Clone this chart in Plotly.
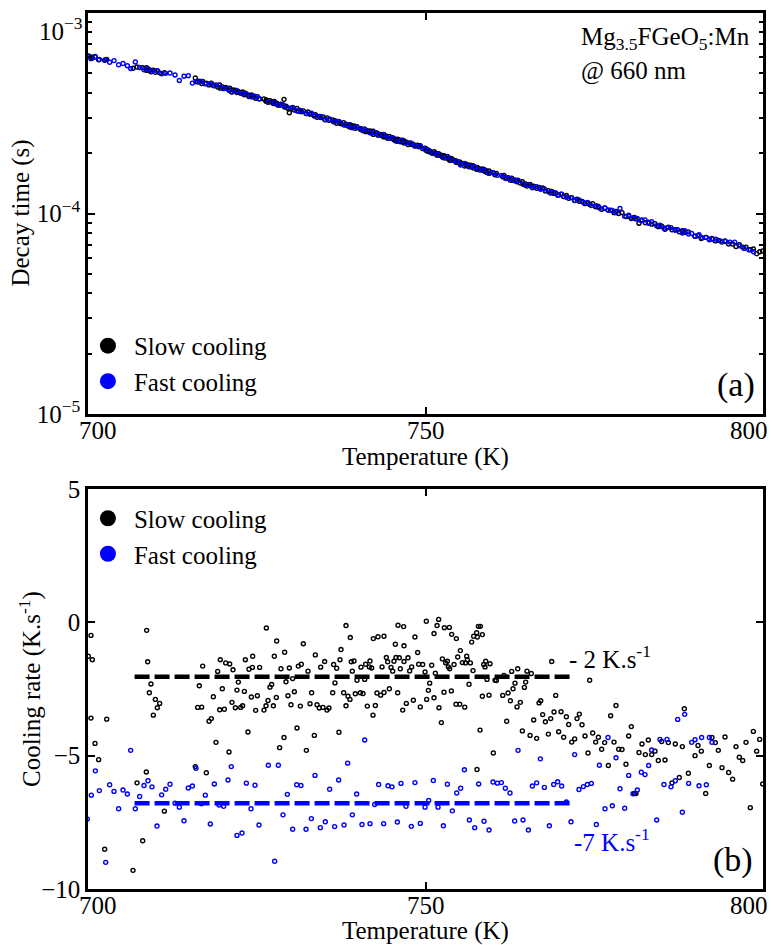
import plotly.graph_objects as go

FONT = "Liberation Serif, Times New Roman, Times, serif"
BLUE = "#0000ff"

# ---------------- data ----------------
# Slow cooling: temperature (K), cooling rate (K/s), decay time (microseconds)
slow_temp = [
    700.05, 700.44, 700.44, 700.64, 701.04, 701.58, 702.47, 702.77, 706.67, 707.26,
    708.10, 708.64, 708.69, 708.84, 709.09, 709.33, 709.68, 709.98, 710.27, 710.62,
    711.31, 715.90, 716.25, 716.49, 716.84, 716.99, 717.53, 717.93, 718.27, 718.57,
    718.96, 719.21, 719.51, 719.60, 719.90, 720.20, 720.40, 720.89, 720.99, 721.33,
    721.48, 721.83, 722.07, 722.27, 722.62, 722.91, 723.16, 723.31, 723.70, 723.85,
    724.20, 724.35, 724.40, 724.84, 725.09, 725.43, 726.07, 726.37, 726.42, 726.67,
    726.96, 727.21, 727.46, 727.60, 727.90, 727.95, 728.39, 728.59, 729.04, 729.13,
    729.33, 729.63, 729.83, 730.07, 730.32, 730.57, 730.96, 731.16, 731.46, 731.60,
    731.90, 732.35, 732.59, 732.89, 733.13, 733.53, 733.68, 733.93, 734.27, 734.47,
    734.81, 735.06, 735.41, 735.70, 736.25, 736.39, 736.59, 736.84, 737.18, 737.33,
    737.48, 737.88, 738.22, 738.22, 738.52, 738.81, 738.86, 739.01, 739.16, 739.41,
    739.60, 739.85, 740.35, 740.44, 740.74, 740.99, 741.13, 741.38, 741.68, 741.78,
    742.02, 742.22, 742.27, 742.57, 742.81, 742.96, 743.36, 743.56, 743.85, 743.85,
    744.20, 744.39, 744.64, 744.89, 745.14, 745.33, 745.53, 745.63, 745.88, 745.93,
    746.12, 746.27, 746.62, 746.76, 746.81, 746.81, 747.16, 747.41, 747.65, 747.95,
    748.20, 748.44, 748.84, 748.99, 749.23, 749.58, 749.93, 750.12, 750.17, 750.42,
    750.62, 750.92, 751.26, 751.26, 751.46, 751.71, 751.95, 752.00, 752.35, 752.50,
    752.74, 752.79, 752.99, 753.24, 753.39, 753.53, 753.58, 753.83, 753.88, 754.23,
    754.52, 754.57, 754.77, 755.07, 755.16, 755.46, 755.81, 755.91, 756.10, 756.20,
    756.45, 756.65, 756.84, 757.04, 757.14, 757.58, 757.63, 757.68, 757.83, 758.08,
    758.13, 758.42, 758.42, 758.62, 758.82, 758.92, 759.11, 759.41, 759.56, 760.05,
    760.30, 760.50, 761.44, 761.63, 762.03, 762.23, 762.57, 762.77, 762.97, 763.26,
    763.56, 763.66, 764.05, 764.35, 764.65, 764.84, 765.04, 765.49, 765.68, 766.03,
    766.47, 766.82, 767.07, 767.36, 767.76, 768.20, 768.55, 768.70, 769.04, 769.29,
    769.73, 770.08, 770.47, 770.87, 771.21, 771.66, 772.10, 772.45, 772.79, 773.19,
    773.63, 774.08, 774.32, 774.77, 775.21, 775.61, 776.10, 776.54, 777.09, 777.43,
    777.93, 778.22, 778.62, 779.11, 779.70, 780.10, 780.49, 780.94, 781.18, 781.63,
    782.07, 782.57, 783.01, 783.51, 784.00, 784.49, 784.99, 785.48, 785.98, 786.52,
    787.01, 787.60, 788.05, 788.35, 788.94, 789.93, 790.37, 790.86, 791.51, 792.05,
    792.44, 792.94, 793.38, 793.93, 794.37, 794.91, 795.50, 796.00, 796.49, 796.99,
    797.48, 798.12, 798.57, 799.06, 799.51, 799.95,
]
slow_rate = [
    -1.27, -0.49, -3.59, -1.40, -4.54, -5.15, -8.51, -3.63, -9.30, -6.02,
    -8.19, -5.61, -0.30, -1.48, -2.64, -2.31, -3.48, -2.89, -3.20, -3.04,
    -7.08, -5.41, -3.19, -2.38, -3.18, -1.64, -5.64, -3.71, -3.61, -2.79,
    -4.50, -1.84, -3.28, -1.40, -2.49, -3.26, -1.52, -4.86, -1.56, -3.00,
    -1.78, -3.20, -2.54, -2.24, -3.19, -3.13, -2.59, -1.40, -4.11, -1.76,
    -2.80, -1.69, -1.27, -3.30, -2.75, -1.69, -3.29, -3.13, -0.21, -2.93,
    -2.43, -2.33, -3.13, -1.27, -2.82, -0.70, -4.70, -1.74, -4.32, -1.12,
    -2.23, -2.75, -1.71, -3.09, -2.11, -2.60, -3.96, -1.64, -3.14, -1.57,
    -0.80, -4.80, -1.83, -3.05, -2.64, -4.24, -1.22, -3.09, -3.21, -1.68,
    -3.19, -1.47, -3.29, -3.21, -2.64, -1.58, -2.27, -1.72, -4.12, -1.40,
    -1.02, -2.64, -0.12, -3.13, -2.77, -2.89, -0.57, -1.48, -1.83, -1.45,
    -2.68, -2.17, -2.64, -1.68, -2.67, -2.14, -1.57, -3.14, -1.67, -1.45,
    -1.71, -3.48, -0.61, -3.12, -2.65, -0.54, -2.73, -1.67, -0.52, -2.63,
    -1.32, -1.48, -2.49, -1.69, -1.83, -1.46, -0.82, -1.32, -2.64, -0.11,
    -1.33, -1.74, -3.29, -0.16, -0.88, -1.47, -3.04, -1.33, -1.82, -1.67,
    -2.92, -0.55, -1.13, -1.57, -3.17, -1.58, -1.86, 0.04, -2.89, -2.55,
    -2.28, -1.61, -0.42, -2.83, -1.91, -0.12, 0.11, -3.20, -3.76, -1.37,
    -2.62, -0.20, -1.52, -1.46, -1.67, -0.19, -1.74, -2.57, -0.45, -1.58,
    -3.07, -0.61, -1.30, -3.07, -1.06, -1.51, -3.18, -1.52, -1.27, -1.40,
    -2.32, -1.52, -0.74, -1.81, -0.52, -0.39, -5.52, -0.55, -0.15, -4.04,
    -0.15, -0.46, -2.77, -1.58, -1.67, -1.46, -2.14, -2.73, -1.55, -4.90,
    -2.17, -2.18, -2.74, -1.99, -3.71, -2.65, -2.94, -1.84, -2.49, -2.28,
    -3.17, -1.74, -3.00, -4.07, -2.44, -2.24, -1.83, -4.24, -1.92, -3.66,
    -4.35, -3.02, -2.94, -3.46, -3.73, -4.19, -3.61, -1.47, -3.36, -2.74,
    -4.10, -3.35, -4.31, -3.54, -3.83, -4.49, -4.37, -3.61, -3.44, -3.84,
    -4.26, -4.90, -2.17, -4.15, -4.49, -4.31, -4.76, -4.51, -5.37, -3.50,
    -4.49, -3.12, -4.76, -4.77, -5.32, -4.26, -3.91, -6.42, -6.42, -4.88,
    -4.56, -4.96, -4.41, -4.96, -4.83, -5.18, -4.47, -5.16, -4.51, -6.02,
    -4.56, -5.82, -4.66, -3.24, -5.66, -5.00, -4.62, -4.83, -6.42, -5.37,
    -4.32, -4.51, -4.80, -5.45, -4.30, -5.63, -5.88, -4.66, -5.06, -5.18,
    -4.50, -6.95, -4.09, -4.83, -4.39, -6.06,
]
slow_decay_us = [
    611, 592, 604, 596, 607, 584, 581, 587, 530, 538,
    533, 518, 533, 518, 521, 509, 519, 506, 516, 503,
    504, 474, 453, 457, 445, 455, 446, 438, 446, 435,
    438, 427, 438, 422, 428, 421, 425, 412, 422, 404,
    413, 412, 401, 406, 398, 404, 391, 398, 390, 383,
    390, 382, 386, 376, 383, 373, 373, 363, 368, 359,
    365, 360, 354, 362, 352, 355, 346, 351, 371, 340,
    343, 334, 318, 334, 337, 328, 334, 324, 327, 322,
    325, 315, 321, 313, 314, 306, 311, 302, 305, 301,
    303, 295, 300, 292, 293, 287, 290, 282, 287, 283,
    280, 284, 276, 279, 273, 277, 269, 274, 270, 273,
    266, 271, 263, 265, 259, 263, 256, 259, 255, 258,
    252, 257, 248, 252, 252, 246, 248, 244, 247, 241,
    243, 237, 242, 237, 239, 233, 235, 230, 235, 231,
    232, 228, 232, 227, 230, 225, 227, 221, 225, 221,
    221, 217, 219, 215, 218, 211, 212, 206, 209, 204,
    204.5, 200.5, 203.5, 199.5, 200.5, 195.5, 199, 195, 195.5, 191.5,
    194, 192, 189, 192.5, 187.5, 189, 184.5, 188, 185, 184.5,
    180, 183, 179.5, 181, 176.5, 177.5, 172.5, 177, 173.5, 175,
    171, 174, 170.5, 173, 168.5, 169, 166, 169.5, 167, 167,
    165, 166.5, 164.5, 166.5, 162, 164, 160, 163, 159.5, 159.5,
    156, 158.5, 152.5, 155, 149.5, 151, 146.5, 150, 146.5, 147,
    144, 146, 142, 144, 139, 140.5, 137, 139.5, 137, 137,
    133.5, 135, 132.5, 134, 129.5, 130, 126.5, 129, 126, 126.5,
    123.5, 125, 121.5, 123, 119, 120, 116, 118, 115, 115,
    112, 113, 111, 112, 108, 108.5, 105, 106.5, 104, 104,
    101, 102.5, 100, 101, 96.5, 97, 94.5, 95.5, 94, 89.5,
    93, 90, 90.5, 88.5, 89, 86, 86.5, 83.5, 85.5, 83,
    83, 81, 82, 80.5, 81, 77, 77.5, 75, 76, 74.5,
    75, 73, 73.5, 72, 73, 70.5, 70.5, 68.5, 70, 68,
    68, 66, 66.5, 63, 64.5, 65,
]

# Fast cooling: temperature (K), cooling rate (K/s), decay time (microseconds)
fast_temp = [
    699.90, 700.49, 701.09, 701.68, 702.62, 703.21, 703.85, 704.54, 705.19, 705.83,
    706.32, 707.01, 707.65, 708.30, 708.89, 709.48, 710.22, 710.91, 711.51, 712.15,
    712.89, 713.53, 714.22, 714.86, 715.46, 716.00, 716.79, 717.38, 718.12, 718.72,
    719.41, 720.10, 720.74, 721.23, 722.07, 722.81, 723.46, 724.15, 724.74, 725.33,
    726.72, 727.65, 728.20, 728.89, 729.53, 730.32, 730.91, 731.55, 732.30, 733.09,
    733.63, 734.42, 735.16, 735.80, 736.54, 737.13, 737.93, 738.47, 739.16, 739.80,
    740.59, 740.99, 741.78, 742.47, 743.06, 743.80, 744.44, 745.04, 745.83, 746.37,
    747.11, 747.90, 748.44, 749.23, 749.93, 750.47, 751.16, 751.86, 752.65, 753.24,
    753.98, 754.62, 755.21, 755.76, 756.50, 757.29, 757.88, 758.67, 759.41, 760.00,
    760.65, 761.24, 761.83, 762.52, 763.21, 763.71, 764.45, 765.24, 765.83, 766.47,
    767.02, 767.61, 768.35, 768.99, 769.58, 770.17, 770.87, 771.56, 772.10, 772.74,
    773.39, 773.98, 774.57, 775.31, 775.76, 776.59, 777.04, 777.68, 778.22, 778.81,
    779.51, 780.10, 780.74, 781.38, 781.97, 782.52, 783.06, 783.51, 784.25, 784.74,
    785.33, 785.78, 786.37, 787.01, 787.36, 788.05, 788.40, 788.98, 789.43, 789.93,
    790.52, 790.91, 791.60, 792.05, 792.44,
]
fast_rate = [
    -7.38, -6.48, -5.57, -6.31, -9.00, -6.09, -6.34, -6.99, -6.29, -6.44,
    -4.80, -6.99, -6.53, -6.12, -5.94, -6.17, -7.64, -6.47, -6.26, -6.07,
    -6.78, -6.93, -7.44, -6.21, -6.14, -5.47, -6.80, -6.48, -7.56, -6.06,
    -6.85, -6.90, -5.91, -5.41, -7.99, -7.90, -6.03, -6.99, -6.11, -7.60,
    -5.36, -8.96, -5.36, -7.22, -6.45, -7.76, -6.09, -6.12, -7.76, -7.36,
    -5.74, -7.70, -7.48, -6.26, -7.66, -5.91, -7.60, -5.28, -7.22, -6.44,
    -7.58, -4.41, -7.55, -6.83, -6.08, -7.55, -6.13, -6.17, -7.49, -6.04,
    -6.90, -7.65, -6.01, -7.54, -6.93, -6.68, -5.93, -6.93, -7.63, -6.07,
    -7.07, -6.40, -6.22, -5.53, -7.41, -7.70, -6.06, -7.46, -7.79, -5.99,
    -6.03, -6.01, -6.22, -6.40, -7.45, -4.80, -7.41, -7.79, -6.14, -6.02,
    -5.12, -6.19, -7.63, -6.08, -5.98, -6.14, -6.74, -7.48, -4.96, -6.27,
    -6.16, -6.08, -6.04, -7.58, -5.36, -6.99, -4.32, -6.88, -5.08, -6.24,
    -6.97, -5.74, -6.43, -6.29, -5.62, -5.71, -5.37, -4.79, -7.41, -4.39,
    -6.08, -4.39, -6.17, -5.94, -3.64, -7.12, -3.45, -6.04, -4.50, -4.40,
    -6.13, -4.32, -6.09, -4.32, -4.50,
]
fast_decay_us = [
    609, 594, 603, 586, 585, 568, 579, 552, 560, 546,
    528, 570, 535, 521, 526, 513, 516, 498, 500, 502,
    491, 461, 484, 487, 447, 455, 455, 443, 445, 434,
    436, 419.5, 420, 405, 409.5, 396.5, 394.5, 382.5, 384.5, 373.5,
    360, 357.5, 346, 348.5, 338, 338.5, 325.5, 326, 315.5, 316,
    307, 304.5, 293, 296, 287, 287.5, 276.5, 277.5, 267.5, 270,
    261.5, 263, 253, 253, 247, 248, 238, 238, 229, 232,
    225, 224, 217, 216, 209, 207, 199, 197.5, 189.5, 191,
    184, 181.5, 174.5, 177.5, 172, 171, 165.5, 164.5, 158.5, 160,
    155, 155, 150, 149.5, 145.5, 146.5, 140, 139, 134.5, 136,
    132.5, 132.5, 127.5, 127.5, 123.5, 125, 120.5, 120, 116.5, 117,
    113.5, 113.5, 109.5, 109.5, 106.5, 106.5, 104, 103.5, 101, 106,
    97, 98, 95, 94.5, 92, 93, 89.5, 91, 87, 87.5,
    84.5, 85, 85, 82.5, 83, 80, 82, 79, 79.5, 77,
    78.5, 76, 76, 74, 74.5,
]
# fast-cooling decay points above 792 K (no cooling-rate point there)
fast_extra_temp = [793.0, 793.7, 794.4, 795.1, 795.8, 796.5, 797.2, 797.9, 798.6]
fast_extra_decay_us = [74.5, 73, 72.5, 72, 72, 69, 67, 66, 64.5]

# mean cooling rates (dashed lines)
mean_span = [706.9, 771.9]
slow_mean_rate = -2.04
fast_mean_rate = -6.78

x_ticks = [700, 750, 800]
rate_ticks = [-10, -5, 0, 5]
decay_ticks = [1e-5, 1e-4, 1e-3]
decay_tick_text = ["10<sup>\u22125</sup>", "10<sup>\u22124</sup>", ""]
top_decade_label = "10<sup>\u22123</sup>"

assert len(slow_temp) == len(slow_rate) == len(slow_decay_us)
assert len(fast_temp) == len(fast_rate) == len(fast_decay_us)
assert len(fast_extra_temp) == len(fast_extra_decay_us)

# ---------------- figure ----------------
fig = go.Figure()


def ring(color):
    return dict(symbol="circle-open", size=4, color=color, line=dict(width=1.4, color=color))


# (a) decay time
fig.add_trace(go.Scatter(x=slow_temp, y=[v * 1e-6 for v in slow_decay_us], mode="markers",
                         marker=ring("black"), xaxis="x", yaxis="y", showlegend=False,
                         hoverinfo="skip"))
fig.add_trace(go.Scatter(x=fast_temp + fast_extra_temp,
                         y=[v * 1e-6 for v in fast_decay_us + fast_extra_decay_us],
                         mode="markers", marker=ring(BLUE), xaxis="x", yaxis="y",
                         showlegend=False, hoverinfo="skip"))
# (b) cooling rate
fig.add_trace(go.Scatter(x=slow_temp, y=slow_rate, mode="markers", marker=ring("black"),
                         xaxis="x2", yaxis="y2", showlegend=False, hoverinfo="skip"))
fig.add_trace(go.Scatter(x=fast_temp, y=fast_rate, mode="markers", marker=ring(BLUE),
                         xaxis="x2", yaxis="y2", showlegend=False, hoverinfo="skip"))
fig.add_trace(go.Scatter(x=mean_span, y=[slow_mean_rate] * 2, mode="lines",
                         line=dict(color="black", width=4.5, dash="15px,5px"),
                         xaxis="x2", yaxis="y2", showlegend=False))
fig.add_trace(go.Scatter(x=mean_span, y=[fast_mean_rate] * 2, mode="lines",
                         line=dict(color=BLUE, width=4.5, dash="15px,5px"),
                         xaxis="x2", yaxis="y2", showlegend=False))

# legend entries (filled circles)
for leg, xa, ya in (("legend", "x", "y"), ("legend2", "x2", "y2")):
    fig.add_trace(go.Scatter(x=[None], y=[None], mode="markers", name="Slow cooling",
                             marker=dict(size=16, color="black"), legend=leg,
                             xaxis=xa, yaxis=ya))
    fig.add_trace(go.Scatter(x=[None], y=[None], mode="markers", name="Fast cooling",
                             marker=dict(size=16, color=BLUE), legend=leg,
                             xaxis=xa, yaxis=ya))

axis_common = dict(showline=True, linecolor="black", linewidth=2.5, mirror="ticks",
                   ticks="inside", ticklen=7, tickwidth=2, tickcolor="black",
                   showgrid=False, zeroline=False, automargin=False,
                   tickfont=dict(family=FONT, size=25, color="black"))

TOP_DOMAIN = [0.5422, 1.0]
BOT_DOMAIN = [0.0, 0.4566]

fig.update_layout(
    width=772, height=945,
    margin=dict(l=88, r=9, t=13, b=56, autoexpand=False),
    paper_bgcolor="white", plot_bgcolor="white",
    font=dict(family=FONT, size=25, color="black"),
    xaxis=dict(domain=[0, 1], anchor="y", range=[700, 800], tickvals=x_ticks,
               showticklabels=False, **axis_common),
    xaxis2=dict(domain=[0, 1], anchor="y2", range=[700, 800], tickvals=x_ticks,
                showticklabels=False, **axis_common),
    yaxis=dict(domain=TOP_DOMAIN, anchor="x", type="log", range=[-5, -3],
               tickmode="array", tickvals=decay_ticks, ticktext=decay_tick_text,
               ticklabeloverflow="allow",
               minor=dict(ticks="inside", ticklen=4, tickwidth=1.5, tickcolor="black",
                          dtick="D1", showgrid=False),
               **axis_common),
    yaxis2=dict(domain=BOT_DOMAIN, anchor="x2", range=[-10, 5], tickvals=rate_ticks,
                ticklabeloverflow="allow", **axis_common),
    legend=dict(x=-0.009, y=0.6462, xanchor="left", yanchor="top", itemwidth=42,
                bgcolor="rgba(0,0,0,0)", borderwidth=0,
                font=dict(family=FONT, size=25, color="black")),
    legend2=dict(x=-0.009, y=0.4492, xanchor="left", yanchor="top", itemwidth=42,
                 bgcolor="rgba(0,0,0,0)", borderwidth=0,
                 font=dict(family=FONT, size=25, color="black")),
)

ann = []
label_shift = {700: 10, 750: 0, 800: -14}
for xref, yref, dy, dt in (("x", "y domain", -16, -43), ("x2", "y2 domain", -16, -42)):
    for t in x_ticks:
        ann.append(dict(x=t, y=0, xref=xref, yref=yref, text=str(t), showarrow=False,
                        xanchor="center", yanchor="middle", xshift=label_shift[t], yshift=dy,
                        font=dict(family=FONT, size=25, color="black")))
    ann.append(dict(x=750, y=0, xref=xref, yref=yref, text="Temperature (K)", showarrow=False,
                    xanchor="center", yanchor="middle", yshift=dt,
                    font=dict(family=FONT, size=25, color="black")))

# top decade label, kept inside the figure as in the reference
ann.append(dict(x=0, y=0.960, xref="x domain", yref="y domain", text=top_decade_label,
                showarrow=False, xanchor="right", yanchor="middle", xshift=-3,
                font=dict(family=FONT, size=25, color="black")))

ann.append(dict(x=-0.077, y=0.5, xref="paper", yref="y domain", text="Decay time (s)",
                textangle=-90, showarrow=False, xanchor="right", yanchor="middle",
                font=dict(family=FONT, size=25, color="black")))
ann.append(dict(x=-0.0587, y=0.5, xref="paper", yref="y2 domain",
                text="Cooling rate (K.s<sup>-1</sup>)",
                textangle=-90, showarrow=False, xanchor="right", yanchor="middle",
                font=dict(family=FONT, size=25, color="black")))

ann.append(dict(x=0.7274, y=0.9803, xref="x domain", yref="y domain",
                text="Mg<sub>3.5</sub>FGeO<sub>5</sub>:Mn", showarrow=False,
                xanchor="left", yanchor="top", font=dict(family=FONT, size=25, color="black")))
ann.append(dict(x=0.7274, y=0.896, xref="x domain", yref="y domain",
                text="@ 660 nm", showarrow=False,
                xanchor="left", yanchor="top", font=dict(family=FONT, size=25, color="black")))
ann.append(dict(x=0.9607, y=0.0716, xref="x domain", yref="y domain", text="(a)",
                showarrow=False, xanchor="center", yanchor="middle",
                font=dict(family=FONT, size=34, color="black")))
ann.append(dict(x=0.956, y=0.0717, xref="x2 domain", yref="y2 domain", text="(b)",
                showarrow=False, xanchor="center", yanchor="middle",
                font=dict(family=FONT, size=34, color="black")))
ann.append(dict(x=771.0, y=-1.97, xref="x2", yref="y2", text="- 2 K.s<sup>-1</sup>",
                showarrow=False, xanchor="left", yanchor="bottom",
                font=dict(family=FONT, size=25, color="black")))
ann.append(dict(x=771.75, y=-8.82, xref="x2", yref="y2", text="-7 K.s<sup>-1</sup>",
                showarrow=False, xanchor="left", yanchor="bottom",
                font=dict(family=FONT, size=25, color=BLUE)))

fig.update_layout(annotations=ann)

# remove the browser's default page margin so the 772x945 figure fills the window
fig.write_html("out.html",
               config={"displayModeBar": False},
               post_script="document.body.style.margin='0';"
                           "document.documentElement.style.overflow='hidden';")
